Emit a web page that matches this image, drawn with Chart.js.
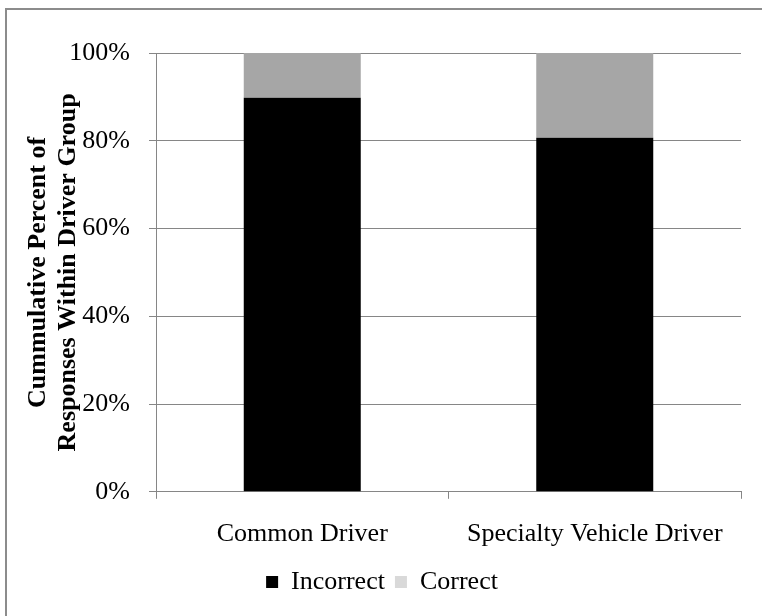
<!DOCTYPE html>
<html>
<head>
<meta charset="utf-8">
<script src="https://cdn.jsdelivr.net/npm/chart.js@4/dist/chart.umd.min.js"></script>
<style>
  html, body { margin: 0; padding: 0; background: #fff; overflow: hidden; }
  #wrap { position: relative; width: 762px; height: 616px; }
  #frame { position: absolute; left: 5px; top: 8px; width: 800px; height: 700px;
           border-left: 2px solid #8c8c8c; border-top: 2px solid #8c8c8c; pointer-events: none; }
  canvas { position: absolute; left: 0; top: 0; }
</style>
</head>
<body>
<div id="wrap">
  <canvas id="c" width="762" height="616"></canvas>
  <div id="frame"></div>
</div>
<script>
const categories = ["Common Driver", "Specialty Vehicle Driver"];
const incorrect = [89.8, 80.7];
const correct = [10.2, 19.3];
const yTitle = ["Cummulative Percent of", "Responses Within Driver Group"];
const seriesNames = ["Incorrect", "Correct"];

const FONT = "'Liberation Serif', 'Times New Roman', serif";
const GRID = "#868686";

new Chart(document.getElementById("c"), {
  type: "bar",
  data: {
    labels: categories,
    datasets: [
      { label: seriesNames[0], data: incorrect, backgroundColor: "#000000",
        categoryPercentage: 1.0, barPercentage: 0.4 },
      { label: seriesNames[1], data: correct, backgroundColor: "#a6a6a6",
        categoryPercentage: 1.0, barPercentage: 0.4 }
    ]
  },
  options: {
    responsive: false,
    animation: false,
    layout: { padding: { left: 23, right: 21, top: 53, bottom: 11 } },
    plugins: {
      tooltip: { enabled: false },
      legend: {
        position: "bottom",
        labels: {
          font: { family: FONT, size: 26 },
          color: "#000",
          boxWidth: 12,
          boxHeight: 12,
          padding: 10,
          generateLabels: (chart) => {
            const cols = ["#000000", "#d9d9d9"];
            return chart.data.datasets.map((ds, i) => ({
              text: ds.label, fillStyle: cols[i], strokeStyle: cols[i],
              lineWidth: 0, datasetIndex: i, hidden: false
            }));
          }
        }
      }
    },
    scales: {
      x: {
        stacked: true,
        offset: true,
        afterFit: s => { s.height -= 11; },
        grid: { offset: true, drawOnChartArea: false, drawTicks: true, tickLength: 7, color: GRID },
        border: { display: true, color: GRID, width: 1 },
        ticks: { font: { family: FONT, size: 26 }, color: "#000", padding: 20, maxRotation: 0 }
      },
      y: {
        stacked: true,
        min: 0, max: 100,
        afterFit: s => { s.width = 133; },
        ticks: { stepSize: 20, font: { family: FONT, size: 26 }, color: "#000", padding: 19,
                 callback: v => v + "%" },
        grid: { color: GRID, tickLength: 7, lineWidth: 1 },
        border: { display: true, color: GRID, width: 1 },
        title: { display: true, text: yTitle,
                 font: { family: FONT, size: 26, weight: "bold", lineHeight: 1.15 },
                 color: "#000", padding: { top: 0, bottom: 0 } }
      }
    }
  }
});
</script>
</body>
</html>
